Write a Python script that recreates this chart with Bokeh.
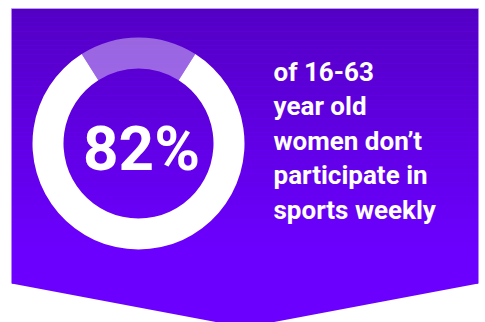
import numpy as np
from bokeh.plotting import figure
from bokeh.models import Range1d
from bokeh.core.properties import value
from bokeh.embed import file_html
from bokeh.resources import INLINE

# data
share_labels = ["don't participate", "participate"]
share_values = [82, 18]
big_label = "82%"
caption_lines = ["of 16-63", "year old", "women don\u2019t", "participate in", "sports weekly"]

W, H = 485, 322
p = figure(width=W, height=H, output_backend="svg", toolbar_location=None,
           x_range=Range1d(0, W), y_range=Range1d(H, 0), min_border=0,
           background_fill_color="white", border_fill_color="white")
p.axis.visible = False
p.grid.visible = False
p.outline_line_color = None

# banner background with vertical gradient
left, right, top, rect_bottom, tip_y = 11, 478, 8, 283, 327
cx_tip = (left + right) / 2
n = 60
ys = np.linspace(top, rect_bottom, n + 1)
c0 = np.array([84, 0, 196]); c1 = np.array([108, 0, 255])
cols = []
for i in range(n):
    t = min(1.0, ((ys[i] + ys[i + 1]) / 2 - top) / (250 - top))
    c = (c0 + (c1 - c0) * t).astype(int)
    cols.append("#%02x%02x%02x" % tuple(c))
# solid base under the gradient strips, so seams blend invisibly
p.patch([left, right, right, cx_tip, left], [top, top, rect_bottom, tip_y, rect_bottom],
        fill_color="#6c00ff", line_color=None)
p.quad(left=[left + 0.5] * n, right=[right - 0.5] * n, top=list(ys[:-1]), bottom=list(ys[1:]),
       fill_color=cols, line_color=None)
p.segment(x0=[left], x1=[right], y0=[top], y1=[top], line_color="#b9a0ea", line_width=1)

# donut
cx, cy, r_in, r_out = 138, 143, 75, 106
total = sum(share_values)
light_span = share_values[1] / total * 2 * np.pi
mid = np.pi / 2
starts = [mid + light_span / 2, mid - light_span / 2]
ends = [mid - light_span / 2 + 2 * np.pi, mid + light_span / 2]
p.annular_wedge(x=[cx], y=[cy], inner_radius=r_in, outer_radius=r_out,
                start_angle=[starts[0]], end_angle=[ends[0]], direction="anticlock",
                fill_color="white", line_color=None)
p.annular_wedge(x=[cx], y=[cy], inner_radius=r_in, outer_radius=r_out,
                start_angle=[starts[1]], end_angle=[ends[1]], direction="anticlock",
                fill_color="white", fill_alpha=0.4, line_color=None)

p.text(x=[141], y=[148], text=[big_label], text_font=value("Roboto"), text_font_style="bold",
       text_font_size="62px", text_color="white", text_align="center", text_baseline="alphabetic")

p.text(x=[273] * 5, y=[71, 105.5, 140, 174.5, 209], text=caption_lines, text_font=value("Roboto"),
       text_font_style="bold", text_font_size="26px", text_color="white",
       text_align="left", text_baseline="alphabetic")

open("out.html", "w").write(file_html(p, INLINE))
